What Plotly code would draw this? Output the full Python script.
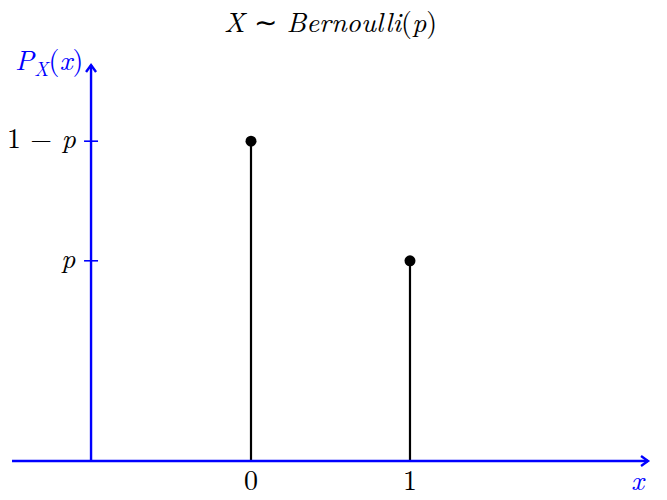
import plotly.graph_objects as go

# ---- data ----
p = 0.385
outcomes = [0, 1]
pmf = [1 - p, p]
pmf_tick_labels = ["1 − <i>p</i>", "<i>p</i>"]
outcome_tick_labels = ["0", "1"]
title_text = "<i>X</i> ∼ <i>Bernoulli</i>(<i>p</i>)"
y_label = "<i>P</i><sub><i>X</i></sub>(<i>x</i>)"
x_label = "<i>x</i>"

# ---- layout parameters ----
BLUE = "#0000ff"
FONT = "Latin Modern Roman"
FS = 28
x_range = [-1.5786, 2.6164]
y_range = [-0.075, 0.8865]
x_axis_start, x_axis_end = -1.503, 2.497
y_axis_x = -1.006
y_axis_end = 0.7615

fig = go.Figure()

# stems
sx, sy = [], []
for xv, yv in zip(outcomes, pmf):
    sx += [xv, xv, None]
    sy += [0, yv, None]
fig.add_trace(go.Scatter(x=sx, y=sy, mode="lines",
                         line=dict(color="black", width=2.2),
                         hoverinfo="skip", showlegend=False))
fig.add_trace(go.Scatter(x=outcomes, y=pmf, mode="markers",
                         marker=dict(color="black", size=11),
                         showlegend=False))

shapes = []
shapes.append(dict(type="line", x0=x_axis_start, x1=x_axis_end, y0=0, y1=0,
                   line=dict(color=BLUE, width=2.4), layer="above"))
shapes.append(dict(type="path", xsizemode="pixel", ysizemode="pixel",
                   xanchor=x_axis_end, yanchor=0,
                   path="M -7,5 L 0,0 L -7,-5",
                   line=dict(color=BLUE, width=2.4), layer="above"))
shapes.append(dict(type="line", x0=y_axis_x, x1=y_axis_x, y0=0, y1=y_axis_end,
                   line=dict(color=BLUE, width=2.4), layer="above"))
shapes.append(dict(type="path", xsizemode="pixel", ysizemode="pixel",
                   xanchor=y_axis_x, yanchor=y_axis_end,
                   path="M -5,-7 L 0,0 L 5,-7",
                   line=dict(color=BLUE, width=2.4), layer="above"))
for yv in pmf:
    shapes.append(dict(type="line", xsizemode="pixel", xanchor=y_axis_x,
                       x0=-7, x1=7, y0=yv, y1=yv,
                       line=dict(color=BLUE, width=1.6), layer="above"))

annotations = []
for yv, lab in zip(pmf, pmf_tick_labels):
    annotations.append(dict(x=y_axis_x, y=yv, xref="x", yref="y", text=lab,
                            showarrow=False, xanchor="right", yanchor="middle",
                            xshift=-13, yshift=5,
                            font=dict(family=FONT, size=FS, color="black")))
for xv, lab in zip(outcomes, outcome_tick_labels):
    annotations.append(dict(x=xv, y=0, xref="x", yref="y", text=lab,
                            showarrow=False, xanchor="center", yanchor="middle",
                            yshift=-17, font=dict(family=FONT, size=FS, color="black")))
annotations.append(dict(x=0.496, y=0.96, xref="paper", yref="paper", text=title_text,
                        showarrow=False, xanchor="center", yanchor="middle",
                        font=dict(family=FONT, size=FS, color="black")))
annotations.append(dict(x=y_axis_x, y=y_axis_end, xref="x", yref="y", text=y_label,
                        showarrow=False, xanchor="right", yanchor="middle",
                        xshift=-6, yshift=5, font=dict(family=FONT, size=FS, color=BLUE)))
annotations.append(dict(x=x_axis_end, y=0, xref="x", yref="y", text=x_label,
                        showarrow=False, xanchor="center", yanchor="middle",
                        xshift=-10, yshift=-17, font=dict(family=FONT, size=FS, color=BLUE)))

fig.update_layout(
    width=667, height=500,
    margin=dict(l=0, r=0, t=0, b=0),
    paper_bgcolor="white", plot_bgcolor="white",
    xaxis=dict(range=x_range, visible=False, fixedrange=True),
    yaxis=dict(range=y_range, visible=False, fixedrange=True),
    shapes=shapes, annotations=annotations,
    showlegend=False,
)

fig.write_html("out.html", config={"displayModeBar": False},
               post_script="document.body.style.margin='0';document.body.style.overflow='hidden';")
